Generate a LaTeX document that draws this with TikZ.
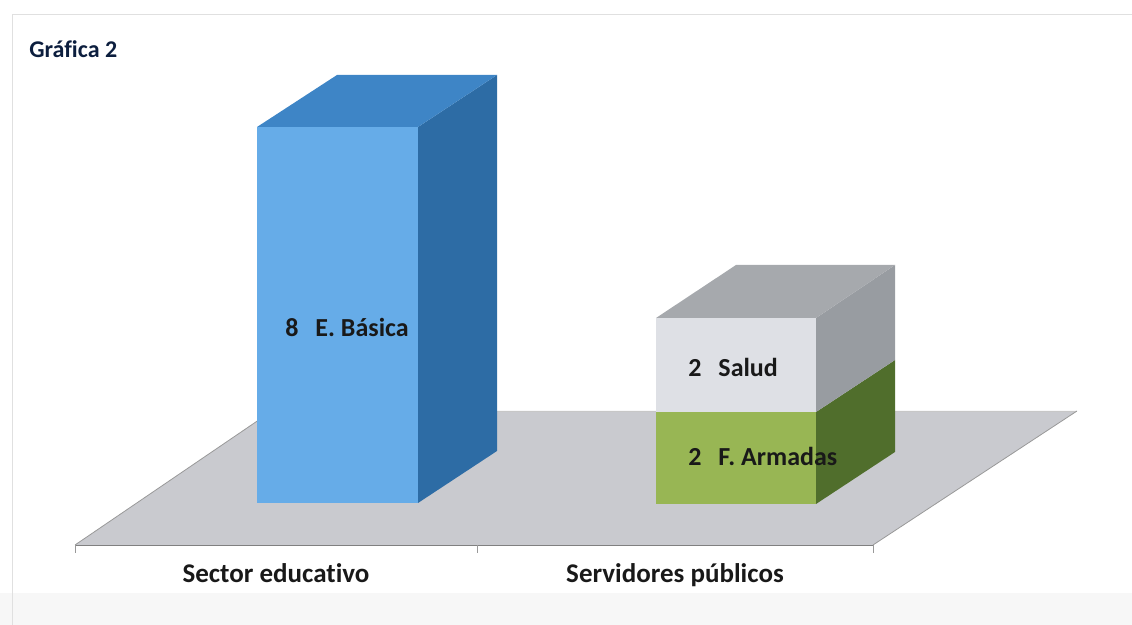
\documentclass[tikz,border=0pt]{standalone}
\usepackage{fontspec}
\setmainfont{Carlito}[Ligatures=NoCommon]
\begin{document}
\begin{tikzpicture}[x=0.5pt,y=-0.5pt,
  catlabel/.style={font=\fontsize{13.5}{16}\selectfont\bfseries, text=black!90},
  datalabel/.style={font=\fontsize{13}{16}\selectfont\bfseries, text=black!90, anchor=base west, inner sep=0pt}]
  % Define colors for the faces
  \definecolor{floorgray}{RGB}{201,202,207}
  \definecolor{bluefront}{RGB}{102,172,232}
  \definecolor{bluetop}{RGB}{62,133,198}
  \definecolor{blueside}{RGB}{45,108,165}
  \definecolor{grayfront}{RGB}{222,224,229}
  \definecolor{graytop}{RGB}{166,169,173}
  \definecolor{grayside}{RGB}{152,156,161}
  \definecolor{greenfront}{RGB}{152,182,84}
  \definecolor{greenside}{RGB}{80,110,44}
  \definecolor{titleblue}{RGB}{12,30,62}

  \useasboundingbox (0,0) rectangle (1132,625);

  % Scanned frame
  \fill[black!3] (0,593) rectangle (1132,625);
  \draw[black!12] (12,625) -- (12,14) -- (1132,14);

  % Floor
  \fill[floorgray] (75,545) -- (873,545) -- (1077,411) -- (272,411) -- cycle;
  \draw[black!22] (272,411) -- (1077,411);
  \draw[black!40] (75,545) -- (272,411);
  \draw[black!40] (873,545) -- (1077,411);
  \draw[black!50] (75,545) -- (873,545);
  \foreach \x in {75,477,873}
    \draw[black!40] (\x,545) -- (\x,553);

  % Blue bar
  \fill[bluefront] (257,127) rectangle (418,503);
  \fill[blueside] (418,127) -- (497,75) -- (497,451) -- (418,503) -- cycle;
  \fill[bluetop] (257,127) -- (337,75) -- (497,75) -- (418,127) -- cycle;

  % Stacked bar: green part
  \fill[greenfront] (656,412) rectangle (816,504);
  \fill[greenside] (816,412) -- (895,360) -- (895,452) -- (816,504) -- cycle;

  % Stacked bar: gray part
  \fill[grayfront] (656,318) rectangle (816,412);
  \fill[grayside] (816,318) -- (895,265) -- (895,360) -- (816,412) -- cycle;
  \fill[graytop] (656,318) -- (736,265) -- (895,265) -- (816,318) -- cycle;

  % Add labels
  \node[font=\fontsize{12}{14}\selectfont\bfseries, text=titleblue, anchor=base west, inner sep=0pt] (title) at (29,58) {Gráfica 2};
  \node[datalabel] (basica) at (285,337) {8\hspace{0.65em}E. Básica};
  \node[datalabel] (salud) at (688,377) {2\hspace{0.65em}Salud};
  \node[datalabel] (armadas) at (688,466) {2\hspace{0.65em}F. Armadas};
  \node[catlabel, anchor=base] (educ) at (276,583) {Sector educativo};
  \node[catlabel, anchor=base] (serv) at (675,583) {Servidores públicos};
\end{tikzpicture}
\end{document}
